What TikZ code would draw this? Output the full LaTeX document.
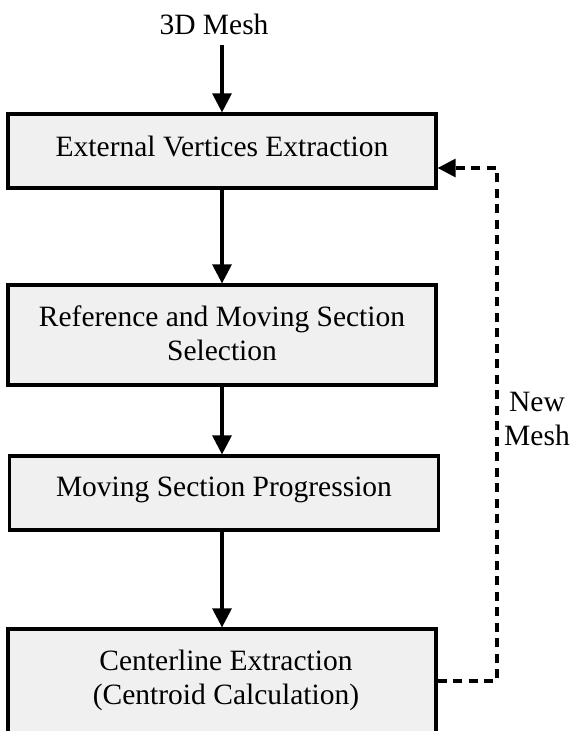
\documentclass[tikz,border=0pt]{standalone}
\usepackage{fontspec}
\setmainfont{Liberation Serif}
\usetikzlibrary{arrows.meta}
\definecolor{boxgray}{HTML}{F0F0F0}
\tikzset{
  procbox/.style={draw=black, fill=boxgray, line width=3.2pt, rectangle, inner sep=0pt},
  txt/.style={font=\fontsize{29.5}{34}\selectfont, align=center, inner sep=0pt, anchor=north},
  arr/.style={line width=3.1pt, -{Triangle[length=19pt,width=19pt]}},
  fb/.style={line width=3.1pt, dash pattern=on 9pt off 6.5pt, -{Triangle[length=18pt,width=18pt]}}
}
\begin{document}
\begin{tikzpicture}[x=1pt,y=-1pt]
\useasboundingbox[fill=white] (0,0) rectangle (571,731);
% boxes
\node[procbox, minimum width=428pt, minimum height=74pt] (b1) at (222,151) {};
\node[procbox, minimum width=428pt, minimum height=100pt] (b2) at (222,335) {};
\node[procbox, minimum width=429pt, minimum height=74pt] (b3) at (224,493) {};
\node[procbox, minimum width=428pt, minimum height=108pt] (b4) at (222,683) {};
% texts
\node[txt] (mesh) at (214,14) {3D Mesh};
\node[txt] (t1) at (222,136) {External Vertices Extraction};
\node[txt] (t2) at (222,305.5) {Reference and Moving Section\\Selection};
\node[txt] (t3) at (224,477) {Moving Section Progression};
\node[txt] (t4) at (226,650) {Centerline Extraction\\(Centroid Calculation)};
\node[txt] (nm) at (537,392) {New\\Mesh};
% connectors
\coordinate (m0) at (222,45);
\draw[arr] (m0) -- (b1.north);
\draw[arr] (b1.south) -- (b2.north);
\draw[arr] (b2.south) -- (b3.north -| b2.south);
\draw[arr] (b3.south -| b2.south) -- (b4.north);
\coordinate (d1) at (497,681);
\coordinate (d2) at (497,168);
\draw[fb] (b4.east |- d1) -- (d1) -- (d2) -- (b1.east |- d2);
\end{tikzpicture}
\end{document}
